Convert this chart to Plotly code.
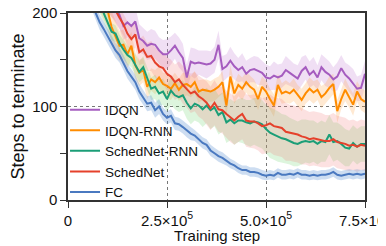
import plotly.graph_objects as go

steps = [i * 10000 for i in range(76)]

idqn = [330, 320, 305, 290, 280, 265, 255, 245, 235, 225, 218, 212,
        205, 198, 186, 190, 186, 191, 173, 170, 165, 167, 166, 160, 156, 156,
        160, 165, 158, 152, 131, 148, 146, 147, 146, 145, 146, 150, 166, 140,
        143, 149, 143, 139, 142, 135, 139, 140, 138, 136, 131, 130, 133, 131,
        133, 139, 136, 133, 130, 138, 142, 134, 138, 131, 142, 137, 134, 129,
        132, 141, 134, 130, 125, 119, 120, 135]
idqn_sd = [20, 20, 19, 19, 18, 18, 18, 17, 17, 17, 16, 16,
           16, 15, 15, 16, 15, 16, 15, 14, 15, 16, 15, 14, 15, 16,
           15, 14, 16, 15, 14, 15, 16, 13, 14, 15, 13, 14, 15, 14,
           13, 15, 14, 13, 15, 14, 13, 14, 15, 13, 14, 13, 15, 14,
           13, 15, 14, 13, 14, 15, 13, 14, 15, 13, 14, 15, 14, 13,
           15, 14, 13, 14, 15, 13, 14, 14]

idqn_rnn = [300, 290, 280, 268, 258, 248, 238, 228, 220, 212,
            203, 185, 175, 165, 166, 156, 165, 144, 136, 139, 121, 129, 126,
            131, 124, 122, 119, 125, 118, 123, 124, 121, 126, 116, 118, 117,
            116, 118, 121, 126, 101, 132, 114, 123, 119, 126, 121, 118, 108,
            121, 116, 108, 101, 123, 114, 116, 114, 118, 112, 107, 114, 119,
            115, 118, 110, 114, 120, 124, 95, 108, 118, 110, 102, 116, 108, 105]
idqn_rnn_sd = [22, 22, 21, 21, 20, 20, 19, 19, 18, 18,
               18, 17, 17, 16, 16, 15, 15, 14, 14, 13, 13, 12, 13,
               12, 12, 13, 12, 11, 12, 13, 12, 11, 12, 12, 11, 12,
               11, 12, 11, 12, 11, 12, 11, 12, 12, 11, 12, 11, 12,
               11, 12, 11, 12, 12, 11, 12, 11, 12, 11, 12, 11, 12,
               12, 11, 12, 11, 12, 11, 12, 11, 12, 11, 12, 11, 12, 12]

schednet_rnn = [290, 280, 270, 258, 248, 238, 228, 218, 208,
                200, 190, 180, 178, 168, 161, 155, 152, 145, 137, 142, 130,
                119, 121, 114, 116, 108, 117, 112, 110, 112, 104, 98, 103,
                101, 97, 101, 96, 99, 91, 94, 83, 86, 82, 85, 85, 83, 82,
                84, 83, 81, 76, 72, 70, 68, 66, 65, 63, 61, 60, 62, 63, 62,
                63, 60, 63, 62, 70, 62, 63, 60, 56, 55, 61, 57, 60, 60]
schednet_rnn_sd = [14, 14, 13, 13, 12, 12, 11, 11, 10,
                   10, 10, 9, 9, 9, 10, 10, 10, 11, 11, 12, 12,
                   12, 13, 13, 14, 14, 15, 15, 16, 16, 17, 17, 18,
                   18, 19, 19, 20, 20, 21, 21, 22, 22, 23, 23, 24, 24, 25,
                   25, 26, 26, 26, 27, 27, 27, 26, 26, 25, 25, 24, 24, 23, 23,
                   22, 22, 22, 21, 21, 21, 20, 20, 20, 19, 19, 19, 19, 19]

schednet = [310, 300, 290, 278, 268, 258, 248, 238, 228, 220, 213, 208,
            203, 195, 188, 178, 172, 177, 158, 161, 153, 154, 147, 143, 141,
            135, 132, 126, 129, 123, 119, 114, 116, 111, 108, 104, 98, 104,
            97, 96, 92, 88, 85, 89, 92, 85, 84, 84, 82, 79, 80, 82, 79, 78,
            77, 73, 72, 71, 70, 68, 67, 65, 66, 65, 64, 63, 63, 65, 62, 61,
            60, 58, 59, 57, 59, 58]
schednet_sd = [16, 16, 15, 15, 14, 14, 13, 13, 12, 12, 12, 12,
               12, 12, 12, 13, 13, 14, 14, 15, 15, 16, 16, 17, 17,
               18, 18, 19, 19, 20, 20, 21, 21, 22, 22, 23, 23, 24,
               24, 25, 25, 26, 26, 27, 27, 28, 28, 29, 29, 30, 30, 31, 31, 31,
               31, 31, 30, 30, 30, 30, 29, 29, 29, 29, 29, 28, 28, 28, 28, 28,
               28, 27, 27, 27, 27, 27]

fc = [280, 270, 258, 245, 232, 220, 210,
      200, 190, 183, 175, 168, 160, 155, 147, 138, 132, 126, 116, 110, 103,
      104, 96, 100, 92, 88, 90, 82, 81, 78, 74, 71, 69, 65, 61, 59, 53, 50,
      47, 45, 42, 39, 37, 34, 32, 32, 30, 30, 29, 27, 26, 27, 26, 29, 27,
      27, 28, 27, 29, 27, 27, 26, 27, 26, 27, 27, 28, 30, 27, 26, 27, 28,
      27, 28, 27, 28]
fc_sd = [10, 10, 10, 9, 9, 9, 9,
         8, 8, 8, 8, 8, 8, 8, 8, 8, 8, 8, 8, 8, 8,
         8, 8, 8, 7, 7, 7, 7, 7, 7, 7, 7, 6, 6, 6, 6, 6, 6,
         6, 6, 5, 5, 5, 5, 5, 5, 5, 5, 5, 5, 5, 5, 5, 5, 5,
         5, 5, 5, 5, 5, 5, 5, 5, 5, 5, 5, 5, 5, 5, 5, 5, 5,
         5, 5, 5, 5]

series = [
    ("IDQN", idqn, idqn_sd, "#a55cbf", "rgba(200,140,215,0.28)"),
    ("IDQN-RNN", idqn_rnn, idqn_rnn_sd, "#ff8c00", "rgba(255,170,80,0.26)"),
    ("SchedNet-RNN", schednet_rnn, schednet_rnn_sd, "#1b9e77", "rgba(100,210,100,0.22)"),
    ("SchedNet", schednet, schednet_sd, "#e5412b", "rgba(240,120,120,0.22)"),
    ("FC", fc, fc_sd, "#4a79c0", "rgba(100,150,210,0.32)"),
]

xticks = [0, 250000, 500000, 750000]
xticktext = ["0", "2.5×10<sup>5</sup>", "5.0×10<sup>5</sup>", "7.5×10<sup>5</sup>"]
yticks = [0, 100, 200]
yminor = [50, 150]
x_title = "Training step"
y_title = "Steps to terminate"

fig = go.Figure()
for name, vals, sd, col, fcol in series:
    upper = [v + s for v, s in zip(vals, sd)]
    lower = [v - s for v, s in zip(vals, sd)]
    fig.add_trace(go.Scatter(
        x=steps + steps[::-1], y=upper + lower[::-1],
        fill="toself", fillcolor=fcol, line=dict(width=0),
        mode="lines", showlegend=False, hoverinfo="skip"))
for name, vals, sd, col, fcol in series:
    fig.add_trace(go.Scatter(
        x=steps, y=vals, mode="lines", name=name,
        line=dict(color=col, width=2)))

font = dict(family="Liberation Sans, Arial, sans-serif", size=15, color="#111")
fig.update_layout(
    width=386, height=246,
    margin=dict(l=60, r=29, t=5, b=54, autoexpand=False),
    paper_bgcolor="white", plot_bgcolor="white",
    font=font,
    showlegend=True,
    legend=dict(x=-0.01, y=-0.04, xanchor="left", yanchor="bottom",
                bgcolor="rgba(0,0,0,0)", borderwidth=0,
                font=dict(size=13.5), tracegroupgap=0, itemwidth=30),
    annotations=[dict(text=x_title, xref="paper", yref="paper",
                      x=0.5, y=-0.19, xanchor="center", yanchor="middle",
                      showarrow=False, font=dict(size=15))],
)
fig.update_xaxes(
    range=[0, 750000], tickvals=xticks, ticktext=xticktext,
    ticks="outside", ticklen=6, tickcolor="#333",
    showline=True, linecolor="#333", linewidth=1.5, mirror=True,
    showgrid=True, gridcolor="#777", griddash="dot", gridwidth=1,
    zeroline=False, automargin=False, ticklabeloverflow="allow",
)
fig.update_yaxes(
    range=[0, 200], tickvals=yticks,
    ticks="outside", ticklen=6, tickcolor="#333",
    showline=True, linecolor="#333", linewidth=1.5, mirror=True,
    showgrid=True, gridcolor="#777", griddash="dot", gridwidth=1,
    zeroline=False, automargin=False, ticklabeloverflow="allow",
    minor=dict(tickvals=yminor, ticks="outside", ticklen=6, tickcolor="#333", showgrid=False),
    title=dict(text=y_title),
)
fig.write_html("out.html")
